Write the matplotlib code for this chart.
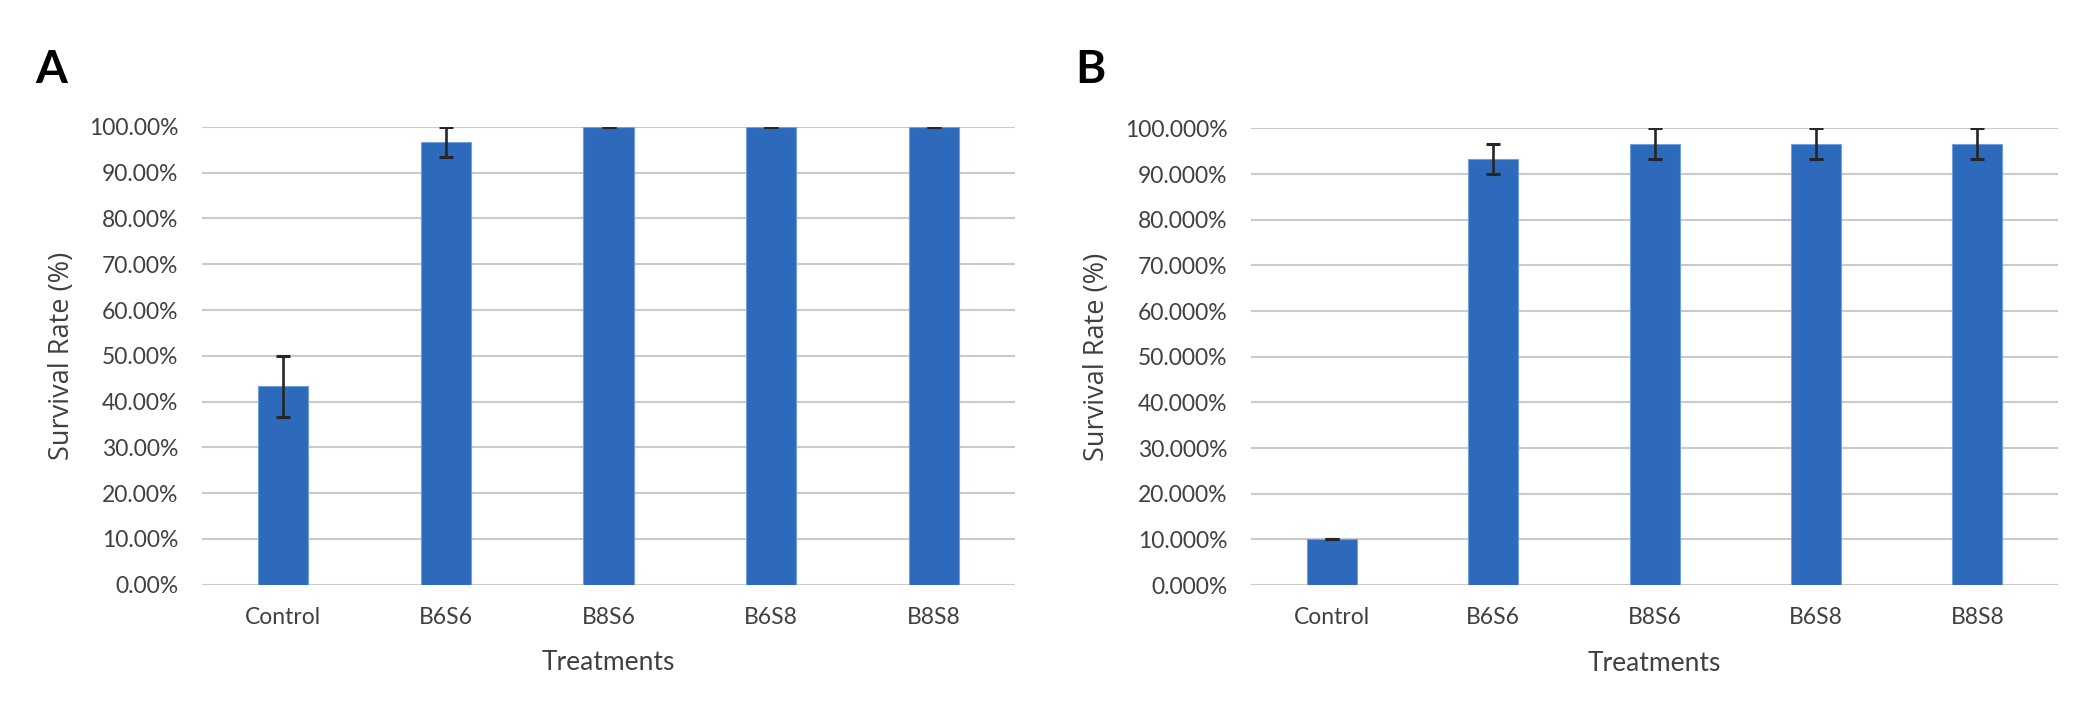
# imports
import matplotlib
matplotlib.use('Agg')
import matplotlib.pyplot as plt
import numpy as np

# set plotting params
plt.rcParams['font.family'] = ['Lato', 'DejaVu Sans']
plt.rcParams['font.size'] = 16

# data
treatments = ['Control', 'B6S6', 'B8S6', 'B6S8', 'B8S8']
survival_a = [43.33, 96.67, 100.0, 100.0, 100.0]
err_a = [6.67, 3.33, 0.0, 0.0, 0.0]
survival_b = [10.0, 93.33, 96.67, 96.67, 96.67]
err_b = [0.0, 3.33, 3.33, 3.33, 3.33]
yticks = np.arange(0, 101, 10)

bar_color = '#2E6ABB'
edge_color = '#6FA0DC'
grid_color = '#CACACA'
text_color = '#404040'


def draw_panel(ax, values, errors, decimals, ylab_x):
    x = np.arange(len(treatments))
    ax.bar(x, values, width=0.31, color=bar_color, edgecolor=edge_color,
           linewidth=0.8, zorder=3)
    ax.errorbar(x, values, yerr=errors, fmt='none', ecolor='#262626',
                elinewidth=1.9, capsize=4.7, capthick=2.2, zorder=4)
    ax.set_xlim(-0.5, len(treatments) - 0.5)
    ax.set_ylim(0, 100)
    ax.set_yticks(yticks)
    ax.set_yticklabels([f'{v:.{decimals}f}%' for v in yticks])
    ax.set_xticks(x)
    ax.set_xticklabels(treatments)
    ax.tick_params(axis='both', length=0, labelsize=16.5, colors=text_color)
    ax.tick_params(axis='y', pad=17)
    ax.tick_params(axis='x', pad=16)
    ax.grid(axis='y', color=grid_color, linewidth=1.5, zorder=0)
    ax.set_axisbelow(True)
    for s in ax.spines.values():
        s.set_visible(False)
    ax.set_xlabel('Treatments', fontsize=19, color=text_color)
    ax.xaxis.set_label_coords(0.5, -0.171)
    ax.xaxis.label.set_va('center')
    ax.set_ylabel('Survival Rate (%)', fontsize=19.5, color=text_color,
                  family=['Open Sans', 'DejaVu Sans'])
    ax.yaxis.set_label_coords(ylab_x, 0.5)
    ax.yaxis.label.set_va('center')


fig = plt.figure(figsize=(20.99, 7.21), dpi=100)
ax_a = fig.add_axes([0.0962, 0.1892, 0.3874, 0.6347])
ax_b = fig.add_axes([0.5960, 0.1886, 0.3845, 0.6332])

draw_panel(ax_a, survival_a, err_a, 2, -0.172)
draw_panel(ax_b, survival_b, err_b, 3, -0.191)

fig.text(51 / 2099, 1 - 70 / 721, 'A', ha='center', va='center',
         fontsize=33, fontweight='bold', color='black')
fig.text(1090 / 2099, 1 - 70 / 721, 'B', ha='center', va='center',
         fontsize=33, fontweight='bold', color='black')

plt.savefig('out.png', dpi=100)
